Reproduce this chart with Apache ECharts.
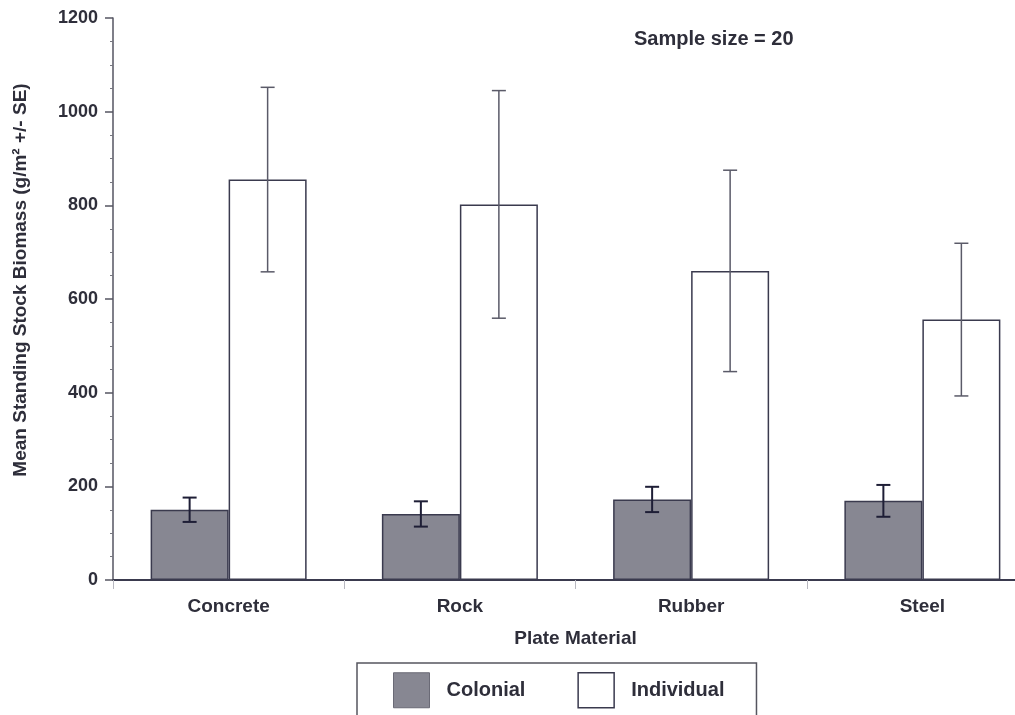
<!DOCTYPE html>
<html>
<head>
<meta charset="utf-8">
<script src="https://cdn.jsdelivr.net/npm/echarts@6/dist/echarts.min.js"></script>
<style>
html,body{margin:0;padding:0;background:#fff;}
#chart{width:1015px;height:715px;}
</style>
</head>
<body>
<div id="chart"></div>
<script>
// ---- data ----
const categories = ['Concrete', 'Rock', 'Rubber', 'Steel'];
const colonialMean = [150, 141, 172, 169];
const colonialSE = [26, 27, 27, 34];
const individualMean = [855, 802, 660, 556];
const individualSE = [197, 243, 215, 163];
const seriesNames = ['Colonial', 'Individual'];
const yMin = 0, yMax = 1200, yStep = 200;
const axisTitleX = 'Plate Material';
const axisTitleY = 'Mean Standing Stock Biomass (g/m\u00B2 +/- SE)';
const noteText = 'Sample size = 20';

// ---- styles ----
const FONT = 'Liberation Sans, Arial, sans-serif';
const TXT = '#2e2e3a';
const BAR_W = 78;
const colonialFill = '#878792';
const barBorder = '#3a3a4e';

function errItems(mean, se) {
  return categories.map((c, i) => [i, mean[i] - se[i], mean[i] + se[i]]);
}

function errRender(sign, color, width, capHalf) {
  return function (params, api) {
    const i = api.value(0);
    const lo = api.coord([i, api.value(1)]);
    const hi = api.coord([i, api.value(2)]);
    const x = lo[0] + sign * BAR_W / 2;
    const style = { stroke: color, lineWidth: width, fill: null };
    return {
      type: 'group',
      children: [
        { type: 'line', shape: { x1: x, y1: lo[1], x2: x, y2: hi[1] }, style: style },
        { type: 'line', shape: { x1: x - capHalf, y1: hi[1], x2: x + capHalf, y2: hi[1] }, style: style },
        { type: 'line', shape: { x1: x - capHalf, y1: lo[1], x2: x + capHalf, y2: lo[1] }, style: style }
      ]
    };
  };
}

const chart = echarts.init(document.getElementById('chart'), null, { renderer: 'canvas' });
const option = {
  backgroundColor: '#ffffff',
  animation: false,
  textStyle: { fontFamily: FONT, color: TXT },
  grid: { left: 113, top: 18, width: 925, height: 562, containLabel: false, outerBoundsMode: 'none' },
  xAxis: {
    type: 'category',
    data: categories,
    name: axisTitleX,
    nameLocation: 'middle',
    nameGap: 49,
    nameTextStyle: { fontFamily: FONT, fontSize: 19, fontWeight: 'bold', color: TXT },
    axisLine: { lineStyle: { color: '#3a3a4e', width: 2 } },
    axisTick: { show: true, length: 9, lineStyle: { color: '#b8b8c0', width: 1 } },
    axisLabel: { fontFamily: FONT, fontSize: 19, fontWeight: 'bold', color: TXT, margin: 17 },
    splitLine: { show: false }
  },
  yAxis: {
    type: 'value',
    min: yMin, max: yMax, interval: yStep,
    name: axisTitleY,
    nameLocation: 'middle',
    nameGap: 83,
    nameTextStyle: { fontFamily: FONT, fontSize: 19, fontWeight: 'bold', color: TXT, padding: [0, 0, 0, 38] },
    axisLine: { show: true, lineStyle: { color: '#555562', width: 1.5 } },
    axisTick: { show: true, length: 8, lineStyle: { color: '#555562', width: 1.5 } },
    minorTick: { show: true, splitNumber: 4, length: 3, lineStyle: { color: '#777780', width: 1 } },
    axisLabel: { fontFamily: FONT, fontSize: 18, fontWeight: 'bold', color: TXT, margin: 15,
                 formatter: function (v) { return String(v); } },
    splitLine: { show: false }
  },
  legend: {
    left: 357, top: 663,
    orient: 'horizontal',
    icon: 'rect',
    itemWidth: 36, itemHeight: 35, itemGap: 52,
    padding: [9, 32, 30, 36],
    borderColor: '#55555f', borderWidth: 1.5,
    textStyle: { fontFamily: FONT, fontSize: 20, fontWeight: 'bold', color: TXT, padding: [0, 0, 0, 12] },
    data: [
      { name: seriesNames[0], itemStyle: { color: colonialFill, borderColor: '#6a6a76', borderWidth: 1 } },
      { name: seriesNames[1], itemStyle: { color: '#ffffff', borderColor: barBorder, borderWidth: 1.5 } }
    ]
  },
  graphic: [{
    type: 'text', left: 634, top: 29,
    style: { text: noteText, font: 'bold 20px ' + FONT, fill: TXT }
  }],
  series: [
    {
      name: seriesNames[0], type: 'bar', data: colonialMean,
      barWidth: BAR_W, barGap: '0%',
      itemStyle: { color: colonialFill, borderColor: barBorder, borderWidth: 1.5 }
    },
    {
      name: seriesNames[1], type: 'bar', data: individualMean,
      barWidth: BAR_W, barGap: '0%',
      itemStyle: { color: '#ffffff', borderColor: barBorder, borderWidth: 1.5 }
    },
    {
      name: 'colonialErr', type: 'custom', z: 5,
      renderItem: errRender(-1, '#1e1e36', 2, 7),
      encode: { x: 0, y: [1, 2] },
      data: errItems(colonialMean, colonialSE)
    },
    {
      name: 'individualErr', type: 'custom', z: 5,
      renderItem: errRender(1, '#5a5a68', 1.5, 7),
      encode: { x: 0, y: [1, 2] },
      data: errItems(individualMean, individualSE)
    }
  ]
};
chart.setOption(option);
</script>
</body>
</html>
